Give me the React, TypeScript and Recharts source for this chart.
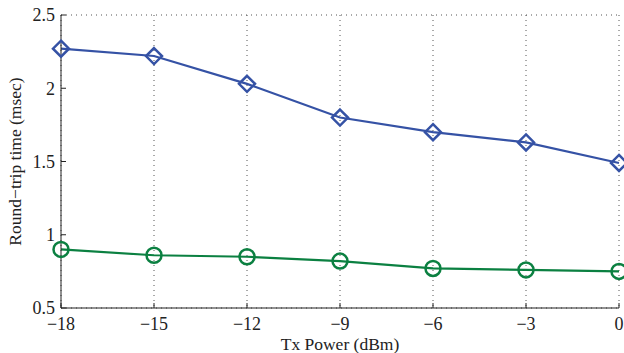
import { LineChart, Line, XAxis, YAxis, CartesianGrid } from "recharts";

const txPower = [-18, -15, -12, -9, -6, -3, 0];
const seriesA = [2.27, 2.22, 2.03, 1.8, 1.7, 1.63, 1.49];
const seriesB = [0.9, 0.86, 0.85, 0.82, 0.77, 0.76, 0.75];
const xTicks = [-18, -15, -12, -9, -6, -3, 0];
const yTicks = [0.5, 1, 1.5, 2, 2.5];

const data = txPower.map((x, i) => ({ x, a: seriesA[i], b: seriesB[i] }));

const BLUE = "#3552a5";
const GREEN = "#0b8041";
const FONT = "Liberation Serif";

const fmt = (v: number) => (v < 0 ? "\u2212" + Math.abs(v) : String(v));

const Diamond = (props: any) => {
  const { cx, cy } = props;
  if (cx == null || cy == null) return null;
  const r = 8;
  return (
    <path
      d={`M${cx},${cy - r} L${cx + r},${cy} L${cx},${cy + r} L${cx - r},${cy} Z`}
      fill="none"
      stroke={BLUE}
      strokeWidth={2.5}
    />
  );
};

const Ring = (props: any) => {
  const { cx, cy } = props;
  if (cx == null || cy == null) return null;
  return <circle cx={cx} cy={cy} r={7.5} fill="none" stroke={GREEN} strokeWidth={2.5} />;
};

const tickStyle = { fontSize: 18, fill: "#222", fontFamily: FONT };
const labelStyle = { fontSize: 17.5, fill: "#222", fontFamily: FONT };

export default function App() {
  return (
    <div style={{ position: "absolute", left: 0, top: 0, background: "#fff", fontFamily: FONT }}>
      <LineChart
        width={624}
        height={353}
        data={data}
        margin={{ top: 15, right: 5, left: 0, bottom: 0 }}
      >
        <CartesianGrid stroke="#555" strokeDasharray="1 4" strokeWidth={1} />
        <XAxis
          xAxisId="bottom"
          dataKey="x"
          type="number"
          domain={[-18, 0]}
          ticks={xTicks}
          tickFormatter={fmt}
          tick={tickStyle}
          tickSize={-5}
          tickMargin={14}
          height={45}
          stroke="#222"
          label={{ value: "Tx Power (dBm)", position: "insideBottom", offset: 0, dy: -3, style: labelStyle }}
        />
        <XAxis
          xAxisId="top"
          dataKey="x"
          type="number"
          orientation="top"
          domain={[-18, 0]}
          ticks={xTicks}
          tick={false}
          tickSize={-5}
          height={0}
          stroke="#222"
        />
        <YAxis
          yAxisId="left"
          type="number"
          domain={[0.5, 2.5]}
          ticks={yTicks}
          tick={tickStyle}
          tickSize={-5}
          tickMargin={11}
          width={61}
          stroke="#222"
          label={{ value: "Round\u2212trip time (msec)", angle: -90, position: "insideLeft", offset: 15, style: { ...labelStyle, textAnchor: "middle" } }}
        />
        <YAxis
          yAxisId="right"
          type="number"
          orientation="right"
          domain={[0.5, 2.5]}
          ticks={yTicks}
          tick={false}
          tickSize={-5}
          width={0}
          stroke="#222"
        />
        <Line
          xAxisId="bottom"
          yAxisId="left"
          dataKey="a"
          stroke={BLUE}
          strokeWidth={2.2}
          dot={<Diamond />}
          isAnimationActive={false}
        />
        <Line
          xAxisId="bottom"
          yAxisId="left"
          dataKey="b"
          stroke={GREEN}
          strokeWidth={2.2}
          dot={<Ring />}
          isAnimationActive={false}
        />
      </LineChart>
    </div>
  );
}
